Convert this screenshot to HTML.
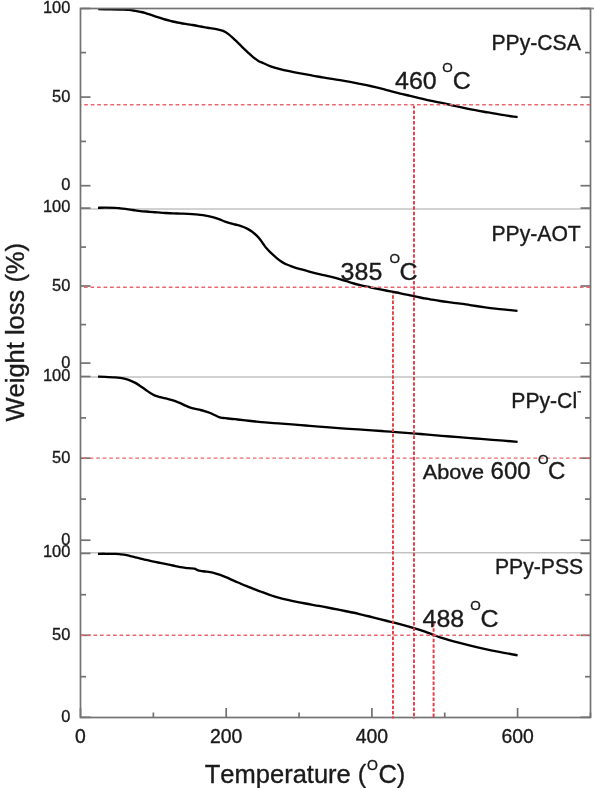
<!DOCTYPE html><html><head><meta charset="utf-8"><style>html,body{margin:0;padding:0;background:#fff;}svg{display:block;will-change:transform;}text{font-family:"Liberation Sans", sans-serif;fill:#1a1a1a;stroke:#1a1a1a;stroke-width:0.35px;font-kerning:none;font-feature-settings:"kern" 0;}</style></head><body>
<svg width="594" height="788" viewBox="0 0 594 788">
<rect x="0" y="0" width="594" height="788" fill="#fff"/>
<line x1="80.5" y1="209.10" x2="590.5" y2="209.10" stroke="#c2c2c2" stroke-width="1.5"/>
<line x1="80.5" y1="376.90" x2="590.5" y2="376.90" stroke="#c2c2c2" stroke-width="1.5"/>
<line x1="80.5" y1="552.75" x2="590.5" y2="552.75" stroke="#c2c2c2" stroke-width="1.5"/>
<path d="M98.20,9.10 C100.20,9.13 106.52,9.22 110.20,9.30 C113.88,9.38 117.28,9.50 120.30,9.60 C123.32,9.70 125.78,9.68 128.30,9.90 C130.82,10.12 133.37,10.57 135.40,10.90 C137.43,11.23 138.82,11.53 140.50,11.90 C142.18,12.27 143.87,12.63 145.50,13.10 C147.13,13.57 148.70,14.17 150.30,14.70 C151.90,15.23 153.47,15.77 155.10,16.30 C156.73,16.83 158.42,17.37 160.10,17.90 C161.78,18.43 163.52,19.02 165.20,19.50 C166.88,19.98 168.52,20.38 170.20,20.80 C171.88,21.22 173.62,21.63 175.30,22.00 C176.98,22.37 178.62,22.68 180.30,23.00 C181.98,23.32 183.72,23.62 185.40,23.90 C187.08,24.18 188.72,24.43 190.40,24.70 C192.08,24.97 193.82,25.20 195.50,25.50 C197.18,25.80 198.82,26.18 200.50,26.50 C202.18,26.82 204.02,27.12 205.60,27.40 C207.18,27.68 208.43,27.95 210.00,28.20 C211.57,28.45 212.82,28.45 215.00,28.90 C217.18,29.35 220.75,29.95 223.10,30.90 C225.45,31.85 227.08,33.05 229.10,34.60 C231.12,36.15 233.17,38.28 235.20,40.20 C237.23,42.12 239.28,44.17 241.30,46.10 C243.32,48.03 245.28,49.92 247.30,51.80 C249.32,53.68 251.55,55.88 253.40,57.40 C255.25,58.92 256.72,59.93 258.40,60.90 C260.08,61.87 261.57,62.33 263.50,63.20 C265.43,64.07 267.23,65.12 270.00,66.10 C272.77,67.08 276.73,68.22 280.10,69.10 C283.47,69.98 286.83,70.68 290.20,71.40 C293.57,72.12 296.93,72.77 300.30,73.40 C303.67,74.03 307.03,74.60 310.40,75.20 C313.77,75.80 317.23,76.42 320.50,77.00 C323.77,77.58 326.73,78.13 330.00,78.65 C333.27,79.17 336.73,79.56 340.10,80.10 C343.47,80.64 346.83,81.27 350.20,81.90 C353.57,82.53 356.93,83.22 360.30,83.90 C363.67,84.58 367.03,85.25 370.40,86.00 C373.77,86.75 377.23,87.58 380.50,88.40 C383.77,89.22 386.73,90.03 390.00,90.90 C393.27,91.77 396.73,92.77 400.10,93.60 C403.47,94.43 406.83,95.12 410.20,95.90 C413.57,96.68 416.93,97.50 420.30,98.30 C423.67,99.10 427.03,99.97 430.40,100.70 C433.77,101.43 437.23,102.03 440.50,102.70 C443.77,103.38 446.32,103.93 450.00,104.75 C453.68,105.57 458.38,106.69 462.60,107.60 C466.82,108.51 471.08,109.40 475.30,110.20 C479.52,111.00 483.70,111.67 487.90,112.40 C492.10,113.13 495.55,113.82 500.50,114.60 C505.45,115.38 514.75,116.68 517.60,117.10" fill="none" stroke="#000" stroke-width="2.35" stroke-linecap="butt" stroke-linejoin="round"/>
<path d="M98.00,207.80 C99.18,207.77 102.23,207.60 105.10,207.60 C107.97,207.60 112.67,207.68 115.20,207.80 C117.73,207.92 118.62,208.12 120.30,208.30 C121.98,208.48 123.62,208.68 125.30,208.90 C126.98,209.12 128.72,209.35 130.40,209.60 C132.08,209.85 133.72,210.15 135.40,210.40 C137.08,210.65 138.07,210.87 140.50,211.10 C142.93,211.33 147.15,211.58 150.00,211.80 C152.85,212.02 155.07,212.20 157.60,212.40 C160.13,212.60 162.68,212.85 165.20,213.00 C167.72,213.15 170.18,213.20 172.70,213.30 C175.22,213.40 177.77,213.50 180.30,213.60 C182.83,213.70 185.37,213.77 187.90,213.90 C190.43,214.03 192.98,214.18 195.50,214.40 C198.02,214.62 200.48,214.82 203.00,215.20 C205.52,215.58 208.07,216.08 210.60,216.70 C213.13,217.32 215.67,218.05 218.20,218.90 C220.73,219.75 223.00,220.87 225.80,221.80 C228.60,222.73 232.45,223.78 235.00,224.50 C237.55,225.22 239.08,225.42 241.10,226.10 C243.12,226.78 245.25,227.67 247.10,228.60 C248.95,229.53 250.68,230.60 252.20,231.70 C253.72,232.80 254.85,233.87 256.20,235.20 C257.55,236.53 259.12,238.23 260.30,239.70 C261.48,241.17 262.30,242.60 263.30,244.00 C264.30,245.40 265.12,246.70 266.30,248.10 C267.48,249.50 268.88,250.93 270.40,252.40 C271.92,253.87 273.72,255.47 275.40,256.90 C277.08,258.33 278.82,259.82 280.50,261.00 C282.18,262.18 283.88,263.20 285.50,264.00 C287.12,264.80 288.62,265.20 290.20,265.80 C291.78,266.40 293.35,267.05 295.00,267.60 C296.65,268.15 297.57,268.38 300.10,269.10 C302.63,269.82 306.83,271.02 310.20,271.90 C313.57,272.78 316.93,273.60 320.30,274.40 C323.67,275.20 327.03,275.88 330.40,276.70 C333.77,277.52 337.23,278.37 340.50,279.30 C343.77,280.23 346.73,281.33 350.00,282.30 C353.27,283.27 356.73,284.27 360.10,285.10 C363.47,285.93 366.83,286.58 370.20,287.30 C373.57,288.02 376.93,288.72 380.30,289.40 C383.67,290.08 387.03,290.75 390.40,291.40 C393.77,292.05 397.23,292.65 400.50,293.30 C403.77,293.95 406.73,294.60 410.00,295.30 C413.27,296.00 416.73,296.83 420.10,297.50 C423.47,298.17 426.83,298.72 430.20,299.30 C433.57,299.88 436.93,300.48 440.30,301.00 C443.67,301.52 447.03,301.95 450.40,302.40 C453.77,302.85 457.23,303.25 460.50,303.70 C463.77,304.15 465.88,304.50 470.00,305.10 C474.12,305.70 480.98,306.72 485.20,307.30 C489.42,307.88 491.93,308.20 495.30,308.60 C498.67,309.00 501.70,309.32 505.40,309.70 C509.10,310.08 515.48,310.70 517.50,310.90" fill="none" stroke="#000" stroke-width="2.35" stroke-linecap="butt" stroke-linejoin="round"/>
<path d="M98.00,376.60 C99.18,376.63 102.23,376.68 105.10,376.80 C107.97,376.92 112.67,377.12 115.20,377.30 C117.73,377.48 118.62,377.63 120.30,377.90 C121.98,378.17 123.62,378.45 125.30,378.90 C126.98,379.35 128.72,379.93 130.40,380.60 C132.08,381.27 133.72,381.97 135.40,382.90 C137.08,383.83 138.82,385.07 140.50,386.20 C142.18,387.33 143.87,388.55 145.50,389.70 C147.13,390.85 148.70,392.12 150.30,393.10 C151.90,394.08 153.47,394.93 155.10,395.60 C156.73,396.27 158.42,396.65 160.10,397.10 C161.78,397.55 163.52,397.88 165.20,398.30 C166.88,398.72 168.52,399.12 170.20,399.60 C171.88,400.08 173.62,400.60 175.30,401.20 C176.98,401.80 178.62,402.47 180.30,403.20 C181.98,403.93 183.72,404.87 185.40,405.60 C187.08,406.33 188.72,407.05 190.40,407.60 C192.08,408.15 193.82,408.50 195.50,408.90 C197.18,409.30 198.87,409.58 200.50,410.00 C202.13,410.42 203.70,410.90 205.30,411.40 C206.90,411.90 208.47,412.35 210.10,413.00 C211.73,413.65 213.60,414.62 215.10,415.30 C216.60,415.98 217.92,416.67 219.10,417.10 C220.28,417.53 221.18,417.72 222.20,417.90 C223.22,418.08 223.02,417.98 225.20,418.20 C227.38,418.42 231.93,418.83 235.30,419.20 C238.67,419.57 242.03,420.02 245.40,420.40 C248.77,420.78 252.23,421.17 255.50,421.50 C258.77,421.83 261.17,422.08 265.00,422.40 C268.83,422.72 274.02,423.07 278.50,423.40 C282.98,423.73 287.42,424.05 291.90,424.40 C296.38,424.75 300.90,425.13 305.40,425.50 C309.90,425.87 314.42,426.23 318.90,426.60 C323.38,426.97 327.95,427.37 332.30,427.70 C336.65,428.03 340.63,428.32 345.00,428.60 C349.37,428.88 354.02,429.10 358.50,429.40 C362.98,429.70 367.42,430.08 371.90,430.40 C376.38,430.72 380.90,430.97 385.40,431.30 C389.90,431.63 394.42,432.07 398.90,432.40 C403.38,432.73 407.95,432.97 412.30,433.30 C416.65,433.63 420.08,433.97 425.00,434.40 C429.92,434.83 436.18,435.45 441.80,435.90 C447.42,436.35 453.08,436.67 458.70,437.10 C464.32,437.53 469.90,438.05 475.50,438.50 C481.10,438.95 485.28,439.25 492.30,439.80 C499.32,440.35 513.38,441.47 517.60,441.80" fill="none" stroke="#000" stroke-width="2.35" stroke-linecap="butt" stroke-linejoin="round"/>
<path d="M98.00,553.80 C99.18,553.80 102.23,553.78 105.10,553.80 C107.97,553.82 112.67,553.82 115.20,553.90 C117.73,553.98 118.62,554.13 120.30,554.30 C121.98,554.47 123.62,554.60 125.30,554.90 C126.98,555.20 128.72,555.70 130.40,556.10 C132.08,556.50 133.72,556.88 135.40,557.30 C137.08,557.72 138.82,558.18 140.50,558.60 C142.18,559.02 143.87,559.42 145.50,559.80 C147.13,560.18 148.70,560.55 150.30,560.90 C151.90,561.25 153.47,561.57 155.10,561.90 C156.73,562.23 158.42,562.57 160.10,562.90 C161.78,563.23 163.52,563.57 165.20,563.90 C166.88,564.23 168.52,564.53 170.20,564.90 C171.88,565.27 173.62,565.73 175.30,566.10 C176.98,566.47 178.62,566.82 180.30,567.10 C181.98,567.38 183.72,567.60 185.40,567.80 C187.08,568.00 188.90,568.15 190.40,568.30 C191.90,568.45 193.22,568.40 194.40,568.70 C195.58,569.00 196.48,569.73 197.50,570.10 C198.52,570.47 199.20,570.67 200.50,570.90 C201.80,571.13 203.70,571.28 205.30,571.50 C206.90,571.72 208.47,571.90 210.10,572.20 C211.73,572.50 213.42,572.85 215.10,573.30 C216.78,573.75 218.52,574.30 220.20,574.90 C221.88,575.50 223.52,576.20 225.20,576.90 C226.88,577.60 228.62,578.35 230.30,579.10 C231.98,579.85 233.62,580.67 235.30,581.40 C236.98,582.13 238.72,582.78 240.40,583.50 C242.08,584.22 243.72,585.00 245.40,585.70 C247.08,586.40 248.82,587.03 250.50,587.70 C252.18,588.37 253.82,589.07 255.50,589.70 C257.18,590.33 259.02,590.93 260.60,591.50 C262.18,592.07 263.18,592.43 265.00,593.10 C266.82,593.77 269.25,594.73 271.50,595.50 C273.75,596.27 275.10,596.82 278.50,597.70 C281.90,598.58 287.42,599.83 291.90,600.80 C296.38,601.77 300.90,602.65 305.40,603.50 C309.90,604.35 314.42,605.07 318.90,605.90 C323.38,606.73 327.95,607.65 332.30,608.50 C336.65,609.35 340.63,610.12 345.00,611.00 C349.37,611.88 354.02,612.78 358.50,613.80 C362.98,614.82 367.42,615.98 371.90,617.10 C376.38,618.22 380.90,619.37 385.40,620.50 C389.90,621.63 394.42,622.72 398.90,623.90 C403.38,625.08 407.95,626.32 412.30,627.60 C416.65,628.88 421.48,630.40 425.00,631.60 C428.52,632.80 430.60,633.75 433.40,634.80 C436.20,635.85 437.58,636.58 441.80,637.90 C446.02,639.22 453.08,641.20 458.70,642.70 C464.32,644.20 469.90,645.58 475.50,646.90 C481.10,648.22 485.28,649.20 492.30,650.60 C499.32,652.00 513.38,654.52 517.60,655.30" fill="none" stroke="#000" stroke-width="2.35" stroke-linecap="butt" stroke-linejoin="round"/>
<rect x="80.5" y="8.5" width="510.0" height="709.0" fill="none" stroke="#727272" stroke-width="1.70"/>
<line x1="590.5" y1="8.5" x2="594" y2="8.5" stroke="#8a8a8a" stroke-width="1.70"/>
<line x1="80.5" y1="8.50" x2="90.5" y2="8.50" stroke="#727272" stroke-width="1.70"/>
<line x1="590.5" y1="8.50" x2="580.5" y2="8.50" stroke="#727272" stroke-width="1.70"/>
<line x1="80.5" y1="52.60" x2="86.0" y2="52.60" stroke="#727272" stroke-width="1.70"/>
<line x1="590.5" y1="52.60" x2="585.0" y2="52.60" stroke="#727272" stroke-width="1.70"/>
<line x1="80.5" y1="97.10" x2="90.5" y2="97.10" stroke="#727272" stroke-width="1.70"/>
<line x1="590.5" y1="97.10" x2="580.5" y2="97.10" stroke="#727272" stroke-width="1.70"/>
<line x1="80.5" y1="141.40" x2="86.0" y2="141.40" stroke="#727272" stroke-width="1.70"/>
<line x1="590.5" y1="141.40" x2="585.0" y2="141.40" stroke="#727272" stroke-width="1.70"/>
<line x1="80.5" y1="185.70" x2="90.5" y2="185.70" stroke="#727272" stroke-width="1.70"/>
<line x1="590.5" y1="185.70" x2="580.5" y2="185.70" stroke="#727272" stroke-width="1.70"/>
<line x1="80.5" y1="208.10" x2="90.5" y2="208.10" stroke="#727272" stroke-width="1.70"/>
<line x1="590.5" y1="208.10" x2="580.5" y2="208.10" stroke="#727272" stroke-width="1.70"/>
<line x1="80.5" y1="247.10" x2="86.0" y2="247.10" stroke="#727272" stroke-width="1.70"/>
<line x1="590.5" y1="247.10" x2="585.0" y2="247.10" stroke="#727272" stroke-width="1.70"/>
<line x1="80.5" y1="286.00" x2="90.5" y2="286.00" stroke="#727272" stroke-width="1.70"/>
<line x1="590.5" y1="286.00" x2="580.5" y2="286.00" stroke="#727272" stroke-width="1.70"/>
<line x1="80.5" y1="324.60" x2="86.0" y2="324.60" stroke="#727272" stroke-width="1.70"/>
<line x1="590.5" y1="324.60" x2="585.0" y2="324.60" stroke="#727272" stroke-width="1.70"/>
<line x1="80.5" y1="363.10" x2="90.5" y2="363.10" stroke="#727272" stroke-width="1.70"/>
<line x1="590.5" y1="363.10" x2="580.5" y2="363.10" stroke="#727272" stroke-width="1.70"/>
<line x1="80.5" y1="376.50" x2="90.5" y2="376.50" stroke="#727272" stroke-width="1.70"/>
<line x1="590.5" y1="376.50" x2="580.5" y2="376.50" stroke="#727272" stroke-width="1.70"/>
<line x1="80.5" y1="417.90" x2="86.0" y2="417.90" stroke="#727272" stroke-width="1.70"/>
<line x1="590.5" y1="417.90" x2="585.0" y2="417.90" stroke="#727272" stroke-width="1.70"/>
<line x1="80.5" y1="458.20" x2="90.5" y2="458.20" stroke="#727272" stroke-width="1.70"/>
<line x1="590.5" y1="458.20" x2="580.5" y2="458.20" stroke="#727272" stroke-width="1.70"/>
<line x1="80.5" y1="499.10" x2="86.0" y2="499.10" stroke="#727272" stroke-width="1.70"/>
<line x1="590.5" y1="499.10" x2="585.0" y2="499.10" stroke="#727272" stroke-width="1.70"/>
<line x1="80.5" y1="540.20" x2="90.5" y2="540.20" stroke="#727272" stroke-width="1.70"/>
<line x1="590.5" y1="540.20" x2="580.5" y2="540.20" stroke="#727272" stroke-width="1.70"/>
<line x1="80.5" y1="553.40" x2="90.5" y2="553.40" stroke="#727272" stroke-width="1.70"/>
<line x1="590.5" y1="553.40" x2="580.5" y2="553.40" stroke="#727272" stroke-width="1.70"/>
<line x1="80.5" y1="594.70" x2="86.0" y2="594.70" stroke="#727272" stroke-width="1.70"/>
<line x1="590.5" y1="594.70" x2="585.0" y2="594.70" stroke="#727272" stroke-width="1.70"/>
<line x1="80.5" y1="635.30" x2="90.5" y2="635.30" stroke="#727272" stroke-width="1.70"/>
<line x1="590.5" y1="635.30" x2="580.5" y2="635.30" stroke="#727272" stroke-width="1.70"/>
<line x1="80.5" y1="676.70" x2="86.0" y2="676.70" stroke="#727272" stroke-width="1.70"/>
<line x1="590.5" y1="676.70" x2="585.0" y2="676.70" stroke="#727272" stroke-width="1.70"/>
<line x1="80.5" y1="717.30" x2="90.5" y2="717.30" stroke="#727272" stroke-width="1.70"/>
<line x1="590.5" y1="717.30" x2="580.5" y2="717.30" stroke="#727272" stroke-width="1.70"/>
<line x1="80.50" y1="717.5" x2="80.50" y2="708.0" stroke="#727272" stroke-width="1.70"/>
<line x1="153.35" y1="717.5" x2="153.35" y2="712.5" stroke="#727272" stroke-width="1.70"/>
<line x1="226.20" y1="717.5" x2="226.20" y2="708.0" stroke="#727272" stroke-width="1.70"/>
<line x1="299.05" y1="717.5" x2="299.05" y2="712.5" stroke="#727272" stroke-width="1.70"/>
<line x1="371.90" y1="717.5" x2="371.90" y2="708.0" stroke="#727272" stroke-width="1.70"/>
<line x1="444.75" y1="717.5" x2="444.75" y2="712.5" stroke="#727272" stroke-width="1.70"/>
<line x1="517.60" y1="717.5" x2="517.60" y2="708.0" stroke="#727272" stroke-width="1.70"/>
<line x1="590.45" y1="717.5" x2="590.45" y2="712.5" stroke="#727272" stroke-width="1.70"/>
<line x1="81" y1="104.80" x2="590" y2="104.80" stroke="#ea6670" stroke-width="1.45" stroke-dasharray="3.7 2.825" stroke-dashoffset="3.33"/>
<line x1="81" y1="287.20" x2="590" y2="287.20" stroke="#ea6670" stroke-width="1.45" stroke-dasharray="3.7 2.825" stroke-dashoffset="3.58"/>
<line x1="81" y1="458.10" x2="590" y2="458.10" stroke="#ea6670" stroke-width="1.45" stroke-dasharray="3.7 2.825" stroke-dashoffset="4.38"/>
<line x1="81" y1="635.30" x2="590" y2="635.30" stroke="#ea6670" stroke-width="1.45" stroke-dasharray="3.7 2.825" stroke-dashoffset="0.60"/>
<line x1="392.97" y1="293.00" x2="392.97" y2="718.50" stroke="#e63a44" stroke-width="1.9" stroke-dasharray="3.5 1.83" stroke-dashoffset="3.060"/>
<line x1="413.97" y1="105.70" x2="413.97" y2="718.50" stroke="#e63a44" stroke-width="1.9" stroke-dasharray="3.5 1.83" stroke-dashoffset="0.610"/>
<line x1="433.60" y1="622.70" x2="433.60" y2="718.50" stroke="#e63a44" stroke-width="1.9" stroke-dasharray="3.5 1.83" stroke-dashoffset="5.170"/>
<text x="70.3" y="12.50" font-size="16.4" text-anchor="end">100</text>
<text x="70.3" y="101.70" font-size="16.4" text-anchor="end">50</text>
<text x="70.3" y="190.30" font-size="16.4" text-anchor="end">0</text>
<text x="70.3" y="212.10" font-size="16.4" text-anchor="end">100</text>
<text x="70.3" y="290.60" font-size="16.4" text-anchor="end">50</text>
<text x="70.3" y="367.70" font-size="16.4" text-anchor="end">0</text>
<text x="70.3" y="380.50" font-size="16.4" text-anchor="end">100</text>
<text x="70.3" y="462.80" font-size="16.4" text-anchor="end">50</text>
<text x="70.3" y="544.80" font-size="16.4" text-anchor="end">0</text>
<text x="70.3" y="557.40" font-size="16.4" text-anchor="end">100</text>
<text x="70.3" y="639.90" font-size="16.4" text-anchor="end">50</text>
<text x="70.3" y="721.90" font-size="16.4" text-anchor="end">0</text>
<text x="80.50" y="742.8" font-size="19.4" text-anchor="middle">0</text>
<text x="226.20" y="742.8" font-size="19.4" text-anchor="middle">200</text>
<text x="371.90" y="742.8" font-size="19.4" text-anchor="middle">400</text>
<text x="517.60" y="742.8" font-size="19.4" text-anchor="middle">600</text>
<text x="0" y="0" font-size="25.5" transform="translate(23.5,421.5) rotate(-90)">Weight loss (%)</text>
<text x="204.8" y="782.5" font-size="25.5">Temperature (<tspan font-size="14" dx="0.6" dy="-12.8">O</tspan><tspan dx="0.6" dy="12.8">C)</tspan></text>
<text x="491.40" y="49.80" font-size="21.40" textLength="89.40" lengthAdjust="spacingAndGlyphs">PPy-CSA</text>
<text x="491.40" y="240.90" font-size="21.40" textLength="89.40" lengthAdjust="spacingAndGlyphs">PPy-AOT</text>
<text x="494.90" y="574.30" font-size="21.40" textLength="88.30" lengthAdjust="spacingAndGlyphs">PPy-PSS</text>
<text x="511.30" y="407.80" font-size="21.40" textLength="65.80" lengthAdjust="spacingAndGlyphs">PPy-Cl</text>
<rect x="577.4" y="391.2" width="3.6" height="1.3" fill="#1a1a1a"/>
<text x="395.00" y="88.60" font-size="24.30" textLength="41.70" lengthAdjust="spacingAndGlyphs">460</text>
<text x="442.30" y="72.10" font-size="13.50">O</text>
<text x="452.80" y="88.60" font-size="24.30" textLength="18.05" lengthAdjust="spacingAndGlyphs">C</text>
<text x="340.60" y="280.10" font-size="24.30" textLength="41.70" lengthAdjust="spacingAndGlyphs">385</text>
<text x="389.40" y="263.10" font-size="13.50">O</text>
<text x="399.40" y="280.30" font-size="24.30" textLength="18.05" lengthAdjust="spacingAndGlyphs">C</text>
<text x="422.50" y="627.20" font-size="24.30" textLength="41.70" lengthAdjust="spacingAndGlyphs">488</text>
<text x="470.30" y="609.70" font-size="13.50">O</text>
<text x="480.40" y="627.20" font-size="24.30" textLength="18.05" lengthAdjust="spacingAndGlyphs">C</text>
<text x="422.70" y="479.10" font-size="20.20" textLength="61.50" lengthAdjust="spacingAndGlyphs">Above</text>
<text x="490.60" y="479.00" font-size="24.00">600</text>
<text x="538.10" y="463.60" font-size="13.50">O</text>
<text x="548.10" y="479.00" font-size="24.00">C</text>
</svg></body></html>
